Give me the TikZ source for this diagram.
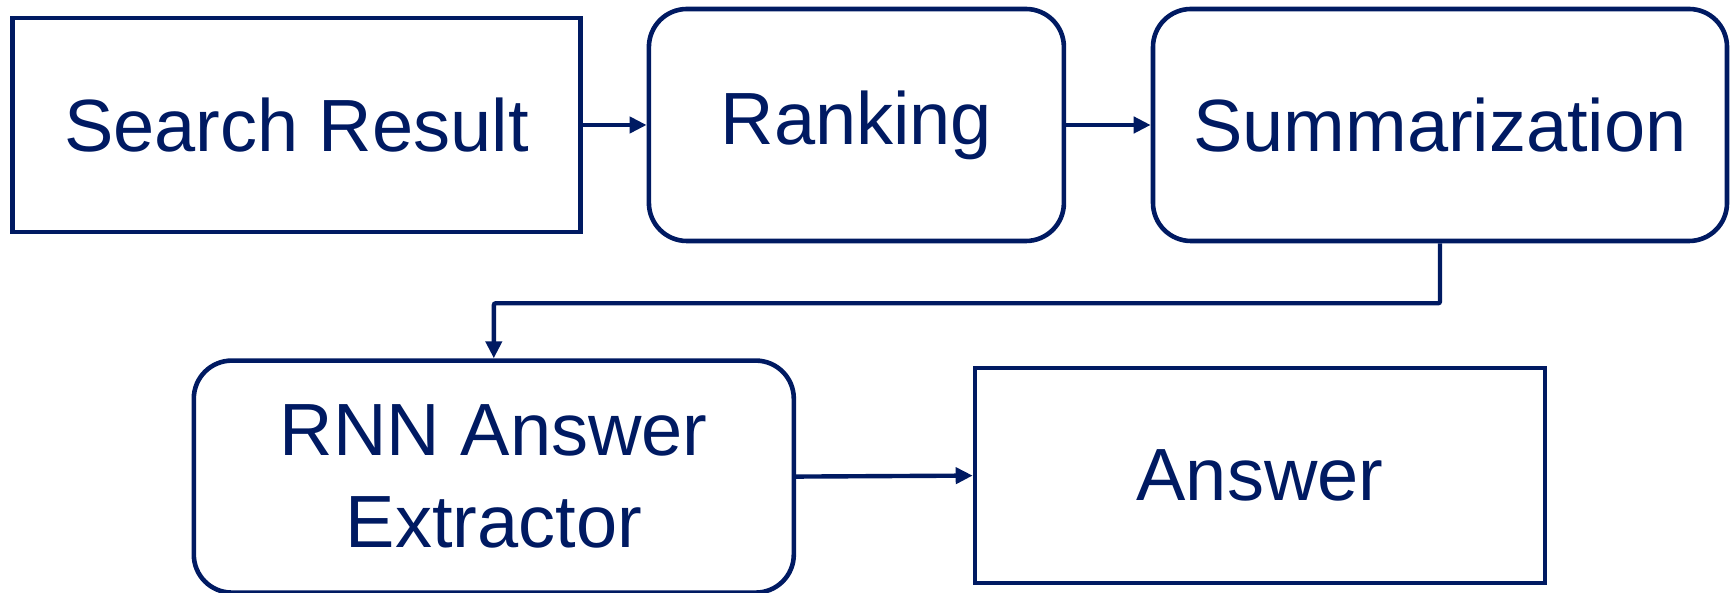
\documentclass[tikz,border=0pt]{standalone}
\usepackage{fontspec}
\setmainfont{Liberation Sans}
\usetikzlibrary{arrows.meta}
\definecolor{navy}{RGB}{0,26,98}
\begin{document}
\begin{tikzpicture}
    [
        x=1pt, y=1pt,
        box/.style={rectangle, draw=navy, line width=2.3pt, text=navy,
            font=\fontsize{37}{46}\selectfont, align=center, inner sep=0pt},
        roundbox/.style={box, rounded corners=19pt},
        edge/.style={-{Triangle[length=8.5pt,width=8pt]}, draw=navy, line width=2.2pt},
    ]
    \useasboundingbox (0,0) rectangle (867,296.5);

    % pipeline
    \node (result) at (148.2,234)  [box, minimum width=284pt, minimum height=107pt] {Search Result};
    \node (rank)   at (428.2,234)  [roundbox, minimum width=207.5pt, minimum height=116pt] {Ranking};
    \node (summ)   at (720,234)    [roundbox, minimum width=287pt, minimum height=116pt] {Summarization};
    \node (rnn)    at (246.9,58.2) [roundbox, minimum width=300pt, minimum height=116pt] {RNN Answer\\Extractor};
    \node (answer) at (630,58.7)   [box, minimum width=285pt, minimum height=107.5pt] {Answer};

    \draw [edge] (result) -- (rank);
    \draw [edge] (rank) -- (summ);
    \draw [edge, rounded corners=1pt] (summ.south) -- ++(0,-30) -| (rnn.north);
    \draw [edge] (rnn.east) -- (answer.west);

\end{tikzpicture}
\end{document}
